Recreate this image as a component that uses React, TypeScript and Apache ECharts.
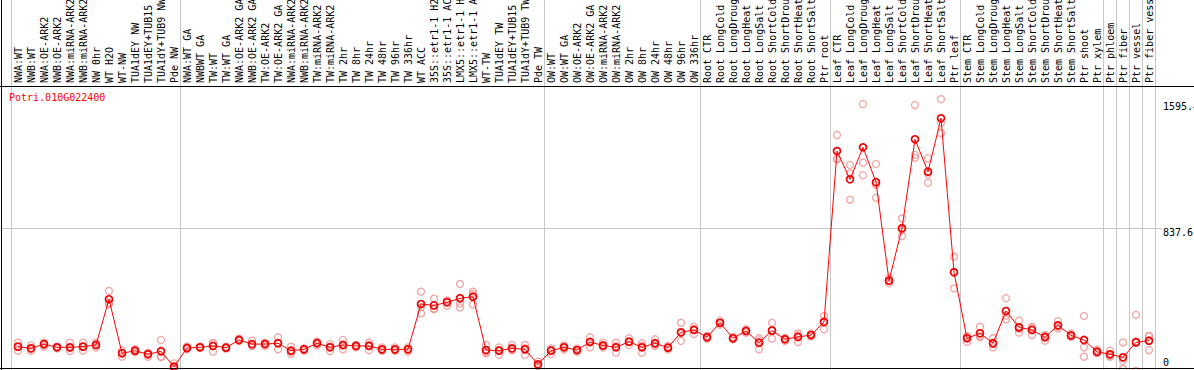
import React, { useEffect, useRef } from 'react';
import * as echarts from 'echarts';

const geneName = 'Potri.010G022400';

const categories = [
  'NWA:WT', 'NWB:WT', 'NWA:OE-ARK2', 'NWB:OE-ARK2', 'NWA:miRNA-ARK2', 'NWB:miRNA-ARK2', 'NW 0hr', 'WT H2O', 'WT-NW', 'TUA1dEY NW', 'TUA1dEY+TUB15 NW', 'TUA1dY+TUB9 NW', 'Pde NW',
  'NWA:WT GA', 'NWBWT GA', 'TW:WT', 'TW:WT GA', 'NWA:OE-ARK2 GA', 'NWB:OE-ARK2 GA', 'TW:OE-ARK2', 'TW:OE-ARK2 GA', 'NWA:miRNA-ARK2', 'NWB:miRNA-ARK2', 'TW:miRNA-ARK2', 'TW:miRNA-ARK2', 'TW 2hr', 'TW 8hr', 'TW 24hr', 'TW 48hr', 'TW 96hr', 'TW 336hr', 'WT ACC', '35S::etr1-1 H2O', '35S::etr1-1 ACC', 'LMX5::etr1-1 H2O', 'LMX5::etr1-1 ACC', 'WT-TW', 'TUA1dEY TW', 'TUA1dEY+TUB15 TW', 'TUA1dY+TUB9 TW', 'Pde TW',
  'OW:WT', 'OW:WT GA', 'OW:OE-ARK2', 'OW:OE-ARK2 GA', 'OW:miRNA-ARK2', 'OW:miRNA-ARK2', 'OW 2hr', 'OW 8hr', 'OW 24hr', 'OW 48hr', 'OW 96hr', 'OW 336hr',
  'Root CTR', 'Root LongCold', 'Root LongDrought', 'Root LongHeat', 'Root LongSalt', 'Root ShortCold', 'Root ShortDrought', 'Root ShortHeat', 'Root ShortSalt', 'Ptr root',
  'Leaf CTR', 'Leaf LongCold', 'Leaf LongDrought', 'Leaf LongHeat', 'Leaf LongSalt', 'Leaf ShortCold', 'Leaf ShortDrought', 'Leaf ShortHeat', 'Leaf ShortSalt', 'Ptr leaf',
  'Stem CTR', 'Stem LongCold', 'Stem LongDrought', 'Stem LongHeat', 'Stem LongSalt', 'Stem ShortCold', 'Stem ShortDrought', 'Stem ShortHeat', 'Stem ShortSalt', 'Ptr shoot', 'Ptr xylem',
  'Ptr phloem', 'Ptr fiber', 'Ptr vessel', 'Ptr fiber vessel',
];

// index of first category of each separated group
const groupStarts = [0, 13, 41, 53, 63, 73, 84, 85, 86, 87];

const meanValues = [
  143, 133, 157, 139, 139, 143, 153, 421, 104, 119, 98, 116, 25,
  135, 139, 147, 137, 182, 158, 158, 163, 119, 127, 163, 139, 153, 147, 147, 127, 127, 127, 393, 385, 403, 427, 436, 123, 119, 133, 127, 39,
  119, 139, 123, 170, 150, 139, 172, 139, 163, 137, 227, 241,
  198, 283, 192, 235, 166, 237, 186, 200, 211, 287,
  1291, 1125, 1313, 1108, 530, 838, 1360, 1170, 1483, 579,
  192, 221, 163, 352, 256, 241, 198, 268, 209, 182, 113,
  98, 80, 168, 178,
];

const replicateValues = [
  [166, 119, 143], [150, 119, 131], [166, 143, 160], [143, 133, 140], [166, 117, 134], [166, 143, 119], [166, 139, 153], [470, 401, 392], [119, 84, 108], [128, 110, 119], [107, 84, 103], [182, 84, 82], [45, 20, 10],
  [143, 127, 135], [143, 135, 139], [163, 113, 165], [143, 131, 137], [190, 176, 180], [178, 147, 149], [166, 147, 161], [198, 127, 164], [143, 113, 101], [127, 133, 121], [166, 150, 173], [157, 117, 143], [182, 127, 150], [153, 139, 149], [166, 122, 153], [139, 119, 123], [139, 122, 120], [139, 113, 129], [466, 375, 338], [425, 363, 367], [413, 383, 413], [511, 397, 373], [466, 391, 451], [153, 104, 112], [139, 94, 124], [153, 123, 123], [153, 94, 134], [55, 29, 33],
  [133, 100, 124], [150, 127, 140], [133, 113, 123], [198, 139, 173], [166, 139, 145], [166, 107, 144], [192, 153, 171], [163, 107, 147], [186, 147, 156], [147, 127, 137], [283, 176, 222], [260, 217, 246],
  [206, 190, 198], [295, 272, 282], [200, 186, 190], [245, 225, 235], [192, 127, 179], [283, 190, 238], [195, 176, 187], [221, 170, 209], [220, 203, 210], [323, 245, 293],
  [1385, 1243, 1245], [1209, 1160, 1006], [1567, 1223, 1149], [1215, 1092, 1017], [530, 515, 545], [896, 792, 826], [1561, 1268, 1251], [1249, 1105, 1156], [1595.4, 1457, 1397], [671, 485, 581],
  [172, 205, 199], [260, 198, 205], [192, 139, 158], [427, 303, 326], [295, 225, 248], [260, 211, 252], [210, 178, 206], [293, 250, 261], [220, 200, 207], [323, 139, 84], [125, 105, 109],
  [119, 84, 91], [168, 60, 12], [329, 0, 175], [205, 123, 206],
];

const yTickLabels = [0, 837.6, 1595.4];
const yAxisMax = 1675.2;

const FONT = 'DejaVu Sans Mono';

export default function App() {
  const ref = useRef<HTMLDivElement>(null);

  useEffect(() => {
    const chart = echarts.init(ref.current as HTMLDivElement, null, { renderer: 'svg' });
    const isSep = (idx: number) => groupStarts.indexOf(idx) >= 0;
    const repData: number[][] = [];
    replicateValues.forEach((reps, i) => reps.forEach((v) => repData.push([i, v])));
    const gridLine = { color: '#c6c6c6', width: 1 };
    const labelRich: any = {};
    const shifts = [[0, 0, 18, 0], [8, 0, 0, 0], [15, 0, 0, 0]];
    yTickLabels.forEach((_, i) => {
      labelRich['t' + i] = { fontFamily: FONT, fontSize: 10, color: '#000', padding: shifts[i], align: 'left' };
    });

    chart.setOption({
      animation: false,
      title: {
        text: geneName,
        left: 9,
        top: 92,
        padding: 0,
        textStyle: { fontFamily: FONT, fontSize: 10, color: '#ff0000', fontWeight: 'normal' },
      },
      grid: [
        { left: 11.5, width: 1144, top: 0, height: 85.6, outerBoundsMode: 'none', containLabel: false },
        { left: 11.5, width: 1144, top: 85.6, height: 285.4, outerBoundsMode: 'none', containLabel: false },
        { left: 1, width: 1160.5, top: 85.6, height: 285.4, outerBoundsMode: 'none', containLabel: false },
      ],
      xAxis: [
        {
          gridIndex: 0, type: 'category', data: categories, boundaryGap: true,
          axisLine: { show: false }, axisTick: { show: false }, axisLabel: { show: false },
          splitLine: { show: true, interval: isSep, lineStyle: gridLine },
        },
        {
          gridIndex: 1, type: 'category', position: 'top', data: categories, boundaryGap: true,
          axisLine: { show: false }, axisTick: { show: false },
          axisLabel: { show: true, interval: 0, rotate: 90, margin: 2.6, fontFamily: FONT, fontSize: 10, color: '#000' },
          splitLine: { show: true, interval: isSep, lineStyle: gridLine },
        },
        { gridIndex: 2, type: 'value', show: false, min: 0, max: 1 },
      ],
      yAxis: [
        { gridIndex: 0, type: 'value', show: false, min: 0, max: 1 },
        { gridIndex: 1, type: 'value', show: false, min: 0, max: yAxisMax },
        {
          gridIndex: 2, type: 'value', position: 'right', min: 0, max: yAxisMax, interval: yAxisMax / 2,
          axisLine: { show: false }, axisTick: { show: false },
          splitLine: { show: true, showMinLine: false, showMaxLine: false, lineStyle: gridLine },
          axisLabel: {
            show: true, customValues: yTickLabels, margin: 1.5, align: 'left',
            fontFamily: FONT, fontSize: 10, color: '#000',
            formatter: (v: number) => {
              let idx = 0;
              yTickLabels.forEach((t, i) => { if (Math.abs(t - v) < 1e-6) idx = i; });
              return '{t' + idx + '|' + String(v) + '}';
            },
            rich: labelRich,
          },
        },
      ],
      graphic: [
        { type: 'line', shape: { x1: 0, y1: 86.5, x2: 1194, y2: 86.5 }, style: { stroke: '#000', lineWidth: 1 }, z: 100 },
        { type: 'line', shape: { x1: 0, y1: 368.5, x2: 1194, y2: 368.5 }, style: { stroke: '#000', lineWidth: 1 }, z: 100 },
        { type: 'line', shape: { x1: 1.5, y1: 0, x2: 1.5, y2: 370 }, style: { stroke: '#000', lineWidth: 1 }, z: 100 },
      ],
      series: [
        {
          type: 'scatter', xAxisIndex: 1, yAxisIndex: 1, data: repData,
          symbol: 'circle', symbolSize: 7,
          itemStyle: { color: 'transparent', borderColor: '#ee8f8f', borderWidth: 1.3 },
          emphasis: { disabled: true }, silent: true, z: 2,
        },
        {
          type: 'line', xAxisIndex: 1, yAxisIndex: 1, data: meanValues,
          symbol: 'circle', symbolSize: 7, showAllSymbol: true,
          lineStyle: { color: '#ff0000', width: 1 },
          itemStyle: { color: 'transparent', borderColor: '#f00000', borderWidth: 1.7 },
          emphasis: { disabled: true }, silent: true, z: 3,
        },
      ],
    });
    return () => chart.dispose();
  }, []);

  return (
    <div style={{ position: 'fixed', left: 0, top: 0, width: 1194, height: 370, background: '#fff' }}>
      <div ref={ref} style={{ width: 1194, height: 370 }} />
    </div>
  );
}
